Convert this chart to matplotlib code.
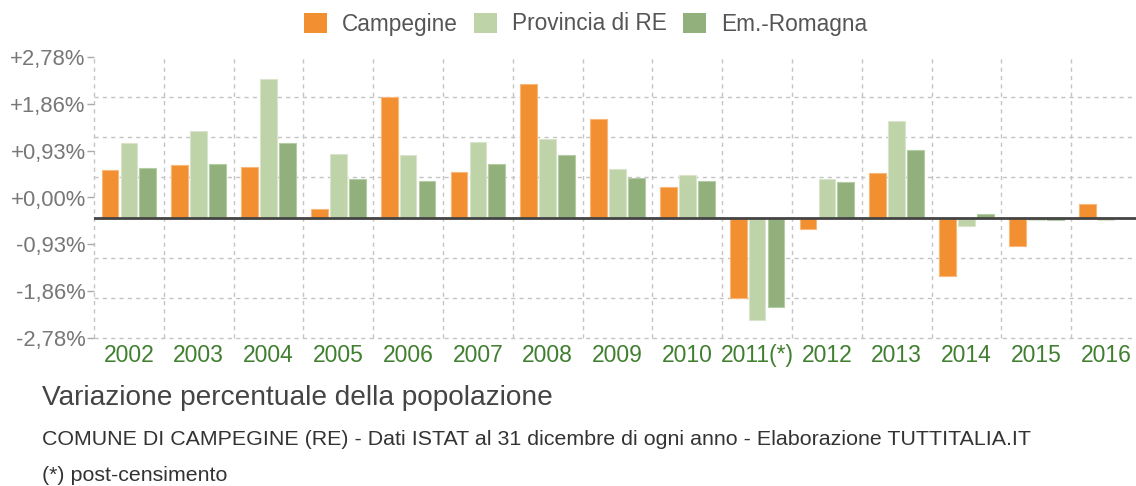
import matplotlib
matplotlib.use("Agg")
import matplotlib.pyplot as plt
import numpy as np
from matplotlib.patches import Patch

# ---- data ----
years = ["2002", "2003", "2004", "2005", "2006", "2007", "2008", "2009",
         "2010", "2011(*)", "2012", "2013", "2014", "2015", "2016"]
campegine = [0.83, 0.91, 0.87, 0.14, 2.09, 0.79, 2.32, 1.71, 0.53,
             -1.40, -0.19, 0.77, -1.01, -0.50, 0.23]
provincia = [1.29, 1.50, 2.40, 1.10, 1.08, 1.30, 1.36, 0.84, 0.73,
             -1.78, 0.67, 1.68, -0.15, -0.05, -0.04]
emilia = [0.86, 0.93, 1.29, 0.66, 0.63, 0.93, 1.09, 0.68, 0.63,
          -1.55, 0.62, 1.17, 0.06, -0.05, 0.0]
series_names = ["Campegine", "Provincia di RE", "Em.-Romagna"]
ytick_labels = ["-2,78%", "-1,86%", "-0,93%", "+0,00%", "+0,93%", "+1,86%", "+2,78%"]
title = "Variazione percentuale della popolazione"
subtitle = ("COMUNE DI CAMPEGINE (RE) - Dati ISTAT al 31 dicembre di ogni anno - "
            "Elaborazione TUTTITALIA.IT")
footnote = "(*) post-censimento"

plt.rcParams['font.family'] = ['Liberation Sans', 'DejaVu Sans']

W, H = 1136, 486
fig = plt.figure(figsize=(W / 100, H / 100), dpi=100)
fig.patch.set_facecolor('white')

left_px, top_px, bottom_px = 94, 57, 338
ax = fig.add_axes([left_px / W, 1 - bottom_px / H, (W - left_px) / W,
                   (bottom_px - top_px) / H])
ax.set_facecolor('white')

x = np.arange(len(years))
step = 0.695
ymin, ymax = -3 * step, 4 * step
colors = ['#f28f30', '#bfd3a9', '#91b07b']
edges = ['#f7b87a', '#d8e5cb', '#b5cca5']
offsets = [-0.27, 0.0, 0.27]
for vals, c, e, off in zip([campegine, provincia, emilia], colors, edges, offsets):
    ax.bar(x + off, vals, width=0.24, color=c, edgecolor=e, linewidth=0.8, zorder=3)

ax.set_xlim(-0.5, -0.5 + (W - left_px) / 69.8)
ax.set_ylim(ymin, ymax)

grid_kw = dict(color='#c4c4c4', lw=1, ls=(0, (3, 3)), zorder=1)
for k in range(len(years)):
    ax.axvline(k - 0.5, clip_on=False, **grid_kw)
for g in [-3, -2, -1, 1, 2, 3]:
    ax.axhline(g * step, clip_on=False, **grid_kw)
ax.axhline(0, color='#444444', lw=2, zorder=4)

for s in ax.spines.values():
    s.set_visible(False)

ax.set_yticks(np.linspace(ymin, ymax, 7))
ax.set_yticklabels(ytick_labels)
ax.tick_params(axis='y', length=5, width=1, color='#aaaaaa', labelcolor='#777777',
               labelsize=15.8, pad=1)
ax.set_xticks(x)
ax.set_xticklabels(years)
ax.tick_params(axis='x', length=0, labelcolor='#3f7f2f', labelsize=16.5, pad=4)

handles = [Patch(facecolor=c, edgecolor='none') for c in colors]
fig.legend(handles, series_names, loc='center', bbox_to_anchor=(585.5 / W, 1 - 24 / H),
           ncol=3, frameon=False, fontsize=16.3, labelcolor='#555555',
           handlelength=1.0, handleheight=1.0, handletextpad=0.65,
           columnspacing=0.75, borderpad=0)

fig.text(42 / W, 1 - 405 / H, title, fontsize=20.2, color='#444444', va='baseline')
fig.text(42 / W, 1 - 445 / H, subtitle, fontsize=15.4, color='#333333', va='baseline')
fig.text(42 / W, 1 - 481 / H, footnote, fontsize=15.4, color='#333333', va='baseline')

fig.savefig('out.png', dpi=100, facecolor='white')
